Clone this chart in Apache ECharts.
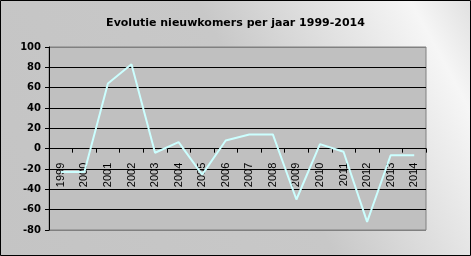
<!DOCTYPE html>
<html><head><meta charset="utf-8">
<script src="https://cdn.jsdelivr.net/npm/echarts@6/dist/echarts.min.js"></script>
<style>html,body{margin:0;padding:0;}#c{width:471px;height:256px;}</style>
</head><body><div id="c"></div>
<script>
const years = ['1999','2000','2001','2002','2003','2004','2005','2006','2007','2008','2009','2010','2011','2012','2013','2014'];
const values = [-23,-23,64,83,-4,6.5,-25.5,8,14,14,-50,4.5,-3,-72,-6.5,-6.5];
const titleText = 'Evolutie nieuwkomers per jaar 1999-2014';
const yMin = -80, yMax = 100, yStep = 20;

const chart = echarts.init(document.getElementById('c'), null, {renderer:'canvas'});
const gridColors = [];
for (let v = yMin; v <= yMax; v += yStep) gridColors.push((v === yMin || v === yMax) ? '#808080' : '#000000');
chart.setOption({
  animation:false,
  backgroundColor: new echarts.graphic.LinearGradient(0,1,1,0,[
    {offset:0,color:'#c4c4c4'},{offset:0.55,color:'#c8c8c8'},{offset:0.9,color:'#f6f6f6'},{offset:1,color:'#e0e0e0'}]),
  graphic:[{type:'rect',z:100,silent:true,shape:{x:0.5,y:0.5,width:470,height:255},style:{fill:null,stroke:'#000',lineWidth:1}}],
  title:{text:titleText,left:'center',top:13,textStyle:{fontFamily:'DejaVu Sans',fontWeight:'bold',fontSize:11,color:'#000'}},
  grid:{left:49,right:45,top:47,bottom:26,containLabel:false,outerBoundsMode:'none',show:true,backgroundColor:'#c0c0c0',borderColor:'#808080',borderWidth:1},
  xAxis:{type:'category',data:years,boundaryGap:true,position:'bottom',offset:0,
    axisLine:{onZero:false,lineStyle:{color:'#000',width:1}},
    axisTick:{show:true,inside:false,length:4,alignWithLabel:false,lineStyle:{color:'#000'}},
    axisLabel:{rotate:90,interval:0,margin:14,fontFamily:'Liberation Sans',fontSize:11,color:'#000'},
    splitLine:{show:false}},
  yAxis:{type:'value',min:yMin,max:yMax,interval:yStep,
    axisLine:{show:true,onZero:false,lineStyle:{color:'#000'}},
    axisTick:{show:true,length:4,lineStyle:{color:'#000'}},
    axisLabel:{margin:8,fontFamily:'DejaVu Sans',fontWeight:'bold',fontSize:10,color:'#000'},
    splitLine:{show:true,lineStyle:{color:gridColors,width:1}}},
  series:[{type:'line',data:values,symbol:'none',lineStyle:{color:'#ccffff',width:2},z:5}]
});
const yZero = chart.convertToPixel({yAxisIndex:0}, 0);
const yBottom = chart.convertToPixel({yAxisIndex:0}, yMin);
chart.setOption({xAxis:{offset:-(yBottom - yZero)}});
</script></body></html>
